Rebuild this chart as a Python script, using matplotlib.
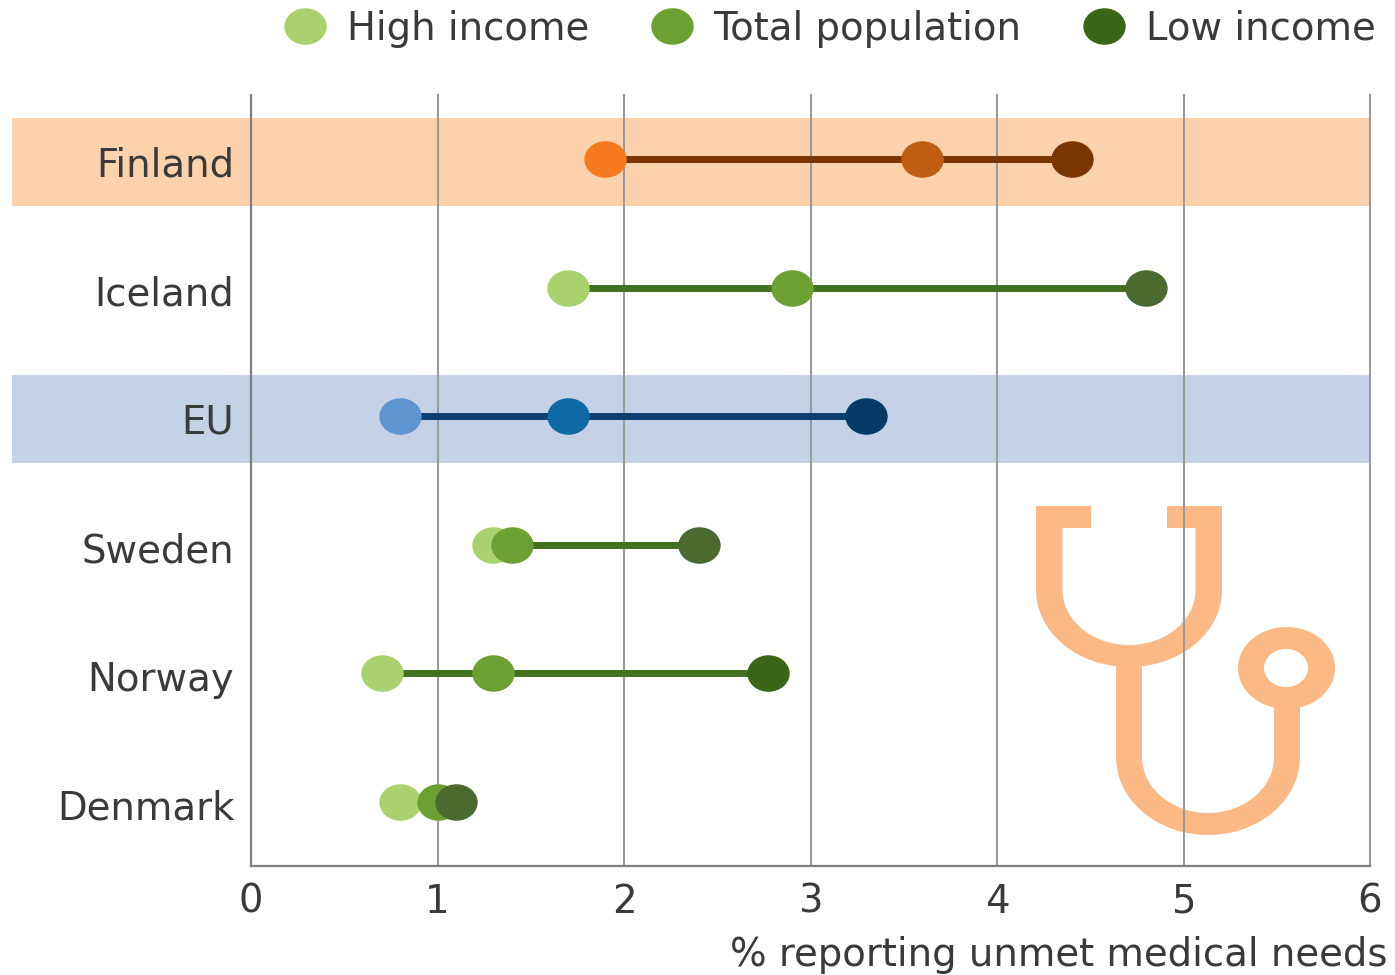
#!/usr/bin/env python3
import numpy as np
import matplotlib
matplotlib.use('Agg')
import matplotlib.pyplot as plt
from matplotlib.lines import Line2D
from matplotlib.patches import PathPatch
from matplotlib.path import Path
from matplotlib.transforms import Affine2D, ScaledTranslation

plt.rcParams['font.family'] = ['DejaVu Sans']

# Values
countries = ['Finland', 'Iceland', 'EU', 'Sweden', 'Norway', 'Denmark']
high_income = [1.9, 1.7, 0.8, 1.3, 0.7, 0.8]
total_population = [3.6, 2.9, 1.7, 1.4, 1.3, 1.0]
low_income = [4.4, 4.8, 3.3, 2.4, 2.77, 1.1]
x_ticks = [0, 1, 2, 3, 4, 5, 6]
highlighted = ['Finland', 'EU']
series_names = ['High income', 'Total population', 'Low income']
x_label = '% reporting unmet medical needs'

# Colours per row: high, total, low, connecting line
row_colors = {
    'Finland': ['#F47920', '#BF5D13', '#7A3500', '#7A3500'],
    'Iceland': ['#A9D26E', '#6DA032', '#4A6A30', '#41701F'],
    'EU': ['#5E94CF', '#0F69A6', '#053A66', '#0A3F70'],
    'Sweden': ['#A9D26E', '#6DA032', '#4A6A30', '#41701F'],
    'Norway': ['#A9D26E', '#6DA032', '#3B6617', '#41701F'],
    'Denmark': ['#A9D26E', '#6DA032', '#4A6A30', '#41701F'],
}
band_colors = {'Finland': '#FCD2AD', 'EU': '#C5D1E6'}
legend_colors = ['#A9D26E', '#6DA032', '#3B6617']
icon_color = '#FCB986'
text_color = '#3A3A3A'

W, H = 1395, 975
FONT = 27.8
# Dots in the reference are slightly wider than tall
dot = Path.unit_circle().transformed(Affine2D().scale(1.16, 1.0))
DOT_SIZE = 30.5

fig = plt.figure(figsize=(W / 100, H / 100), dpi=100)

# Background layer in pixel coordinates for the stethoscope icon
bg = fig.add_axes([0, 0, 1, 1], zorder=0)
bg.set_xlim(0, W)
bg.set_ylim(H, 0)
bg.axis('off')


def half_ellipse(cx, cy, rx, ry, n=60):
    t = np.linspace(np.pi, 0, n)
    return cx + rx * np.cos(t), cy + ry * np.sin(t)


# Upper U with the two ear tabs
ox, oy = half_ellipse(1129, 590, 93, 77)
ix, iy = half_ellipse(1129, 590, 66.5, 55)
bg.fill(np.r_[1036, ox, 1222, 1167, 1167, 1195.5, ix[::-1], 1062.5, 1091, 1091],
        np.r_[506, oy, 506, 506, 528, 528, iy[::-1], 528, 528, 506],
        color=icon_color, lw=0)
# Lower U joining the tube to the chest piece
ox, oy = half_ellipse(1208, 757, 92, 78)
ix, iy = half_ellipse(1208, 757, 66, 56)
bg.fill(np.r_[1116, 1116, ox, 1300, 1274, ix[::-1], 1142, 1142],
        np.r_[650, 757, oy, 700, 700, iy[::-1], 757, 650],
        color=icon_color, lw=0)
# Chest piece ring
t = np.linspace(0, 2 * np.pi, 120)
ring = Path.make_compound_path(
    Path(np.c_[1286.5 + 48.5 * np.cos(t), 668 + 41 * np.sin(t)], closed=False),
    Path(np.c_[1286 + 22 * np.cos(t[::-1]), 668 + 19 * np.sin(t[::-1])], closed=False),
)
bg.add_patch(PathPatch(ring, facecolor=icon_color, lw=0))

# Main axes
ax = fig.add_axes([251 / W, 1 - 866 / H, (1370 - 251) / W, (866 - 95) / H], zorder=1)
ax.patch.set_alpha(0)
ax.set_xlim(0, 6)
ax.set_ylim(5.5, -0.5)

rows = np.arange(len(countries))
for i, name in enumerate(countries):
    if name in highlighted:
        # Bands run out past the axis to behind the country labels
        ax.barh(i + 0.023, 7.281, left=-1.281, height=0.685,
                color=band_colors[name], clip_on=False, zorder=1)
    c_high, c_total, c_low, c_line = row_colors[name]
    ax.plot([high_income[i], low_income[i]], [i, i], color=c_line, lw=5,
            solid_capstyle='butt', zorder=3)
    ax.plot(high_income[i], i, marker=dot, ms=DOT_SIZE, mfc=c_high, mew=0,
            ls='none', zorder=4, clip_on=False)
    ax.plot(total_population[i], i, marker=dot, ms=DOT_SIZE, mfc=c_total, mew=0,
            ls='none', zorder=5, clip_on=False)
    ax.plot(low_income[i], i, marker=dot, ms=DOT_SIZE, mfc=c_low, mew=0,
            ls='none', zorder=6, clip_on=False)

# Vertical grid lines sit over the bands, under the dots
for x in x_ticks[1:]:
    ax.axvline(x, color='#9A9A9A', lw=1.5, zorder=2, clip_on=False)

for side in ['top', 'right']:
    ax.spines[side].set_visible(False)
for side in ['left', 'bottom']:
    ax.spines[side].set_color('#7F7F7F')
    ax.spines[side].set_linewidth(1.6)
    ax.spines[side].set_zorder(2)

ax.set_xticks(x_ticks)
ax.set_yticks(rows)
ax.set_yticklabels(countries)
ax.tick_params(axis='both', length=0, labelsize=FONT, labelcolor=text_color)
ax.tick_params(axis='y', pad=12)
ax.tick_params(axis='x', pad=12)

# Country labels sit a little below their dots
nudge = ScaledTranslation(0, -0.025, fig.dpi_scale_trans)
for label in ax.get_yticklabels():
    label.set_transform(label.get_transform() + nudge)

fig.text(1388 / W, 1 - 955 / H, x_label, ha='right', va='center',
         fontsize=FONT, color=text_color)

handles = [Line2D([], [], marker=dot, ms=DOT_SIZE, mfc=c, mew=0, ls='none')
           for c in legend_colors]
ax.legend(handles, series_names, ncol=3, loc='center right',
          bbox_to_anchor=(1376 / W, 1 - 29 / H), bbox_transform=fig.transFigure,
          frameon=False, fontsize=FONT, labelcolor=text_color, borderpad=0,
          borderaxespad=0, handlelength=1.09, handletextpad=0.54, columnspacing=1.6)

fig.savefig('out.png', dpi=100)
